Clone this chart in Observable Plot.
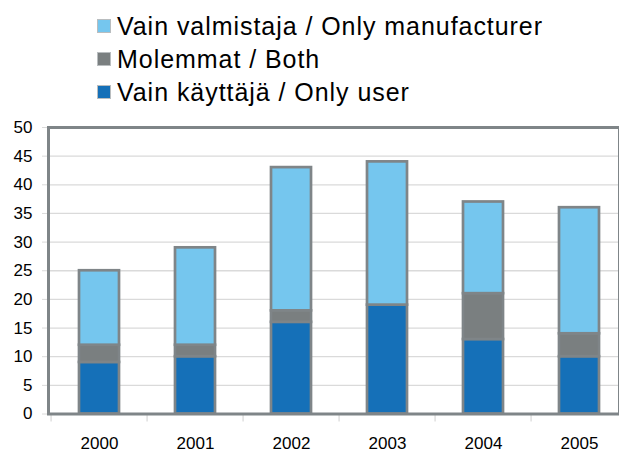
<!DOCTYPE html>
<html>
<head>
<meta charset="utf-8">
<script src="https://cdn.jsdelivr.net/npm/d3@7"></script>
<script src="https://cdn.jsdelivr.net/npm/@observablehq/plot@0.6"></script>
<style>
  html, body { margin: 0; padding: 0; background: #fff; overflow: hidden; }
  body { width: 619px; height: 453px; font-family: "Liberation Sans", Arial, sans-serif; }
  #legend { position: relative; height: 110px; }
  .item { position: absolute; left: 97px; height: 34px; display: flex; align-items: center; }
  .sw { width: 14px; height: 14px; border: 1px solid #b9bdbf; box-sizing: border-box; margin-right: 6px; }
  .lbl { font-size: 25px; letter-spacing: 0.95px; color: #000; white-space: nowrap; }
  svg { display: block; overflow: hidden; }
</style>
</head>
<body>
<div id="legend"></div>
<div id="chart"></div>
<script>
const years = ["2000", "2001", "2002", "2003", "2004", "2005"];
const onlyUser = [9, 10, 16, 19, 13, 10];
const both = [3, 2, 2, 0, 8, 4];
const onlyManufacturer = [13, 17, 25, 25, 16, 22];
const seriesNames = ["Vain käyttäjä / Only user", "Molemmat / Both", "Vain valmistaja / Only manufacturer"];
const seriesColors = ["#1570b8", "#7a7f80", "#75c6ee"];
const yTicks = [0, 5, 10, 15, 20, 25, 30, 35, 40, 45, 50];

const seriesValues = [onlyUser, both, onlyManufacturer];
const data = [];
seriesNames.forEach((s, si) => {
  years.forEach((y, i) => data.push({year: y, series: s, value: seriesValues[si][i]}));
});

// Legend (top to bottom: manufacturer, both, user)
const legend = document.getElementById("legend");
[2, 1, 0].forEach((si, row) => {
  const it = document.createElement("div");
  it.className = "item";
  it.style.top = (9 + row * 33) + "px";
  const sw = document.createElement("div");
  sw.className = "sw";
  sw.style.background = seriesColors[si];
  const lb = document.createElement("span");
  lb.className = "lbl";
  lb.textContent = seriesNames[si];
  it.appendChild(sw); it.appendChild(lb);
  legend.appendChild(it);
});

const xRange = [48, 629];
const step = (xRange[1] - xRange[0]) / years.length;
const frameColor = "#7f8588";
const gridColor = "#dadada";

const chart = Plot.plot({
  width: 619,
  height: 343,
  marginTop: 17,
  marginBottom: 39.5,
  marginLeft: 48,
  marginRight: 0,
  style: {fontFamily: "Liberation Sans, Arial, sans-serif", fontSize: "17px", color: "#000", background: "#fff"},
  x: {domain: years, range: xRange, paddingInner: 0.585, paddingOuter: 0.2925, align: 0.5, label: null},
  y: {domain: [0, 50], label: null},
  color: {domain: seriesNames, range: seriesColors},
  marks: [
    Plot.gridY(yTicks.filter(t => t > 0 && t < 50), {stroke: gridColor, strokeOpacity: 1, strokeWidth: 1.3}),
    Plot.axisY(yTicks, {tickSize: 6, tickPadding: 10, stroke: gridColor, strokeOpacity: 1, fill: "#000", fontSize: 17, label: null}),
    Plot.axisX({tickSize: 0, tickPadding: 22.5, fill: "#000", fontSize: 17, label: null}),
    Plot.axisX({tickSize: 8, tickFormat: () => "", stroke: gridColor, strokeOpacity: 1, strokeWidth: 1.3, dx: -step / 2}),
    Plot.barY(data, Plot.stackY({
      x: "year", y: "value", fill: "series", order: seriesNames,
      stroke: frameColor, strokeWidth: 2.7
    })),
    Plot.frame({stroke: frameColor, strokeWidth: 3})
  ]
});
document.getElementById("chart").appendChild(chart);
</script>
</body>
</html>
